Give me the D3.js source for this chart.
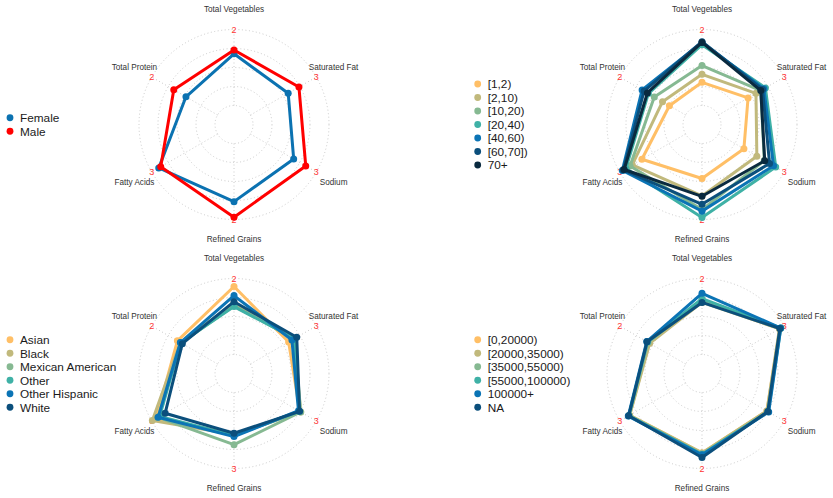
<!DOCTYPE html>
<html lang="en">
<head>
  <meta charset="UTF-8">
  <title>Diet component radar charts</title>
  <script src="https://d3js.org/d3.v7.min.js"></script>
  <style>
    body { margin: 0; background: #fff; }
    svg { font-family: "Liberation Sans", Arial, sans-serif; }
    .grid { fill: none; stroke: #bdbdbd; stroke-width: 0.8; stroke-dasharray: 1 2.5; }
    .axis-name { font-size: 8.2px; fill: #333; text-anchor: middle; }
    .axis-max { font-size: 9px; fill: #ff3333; text-anchor: middle; }
    .legend text { font-size: 11.8px; fill: #1a1a1a; }
  </style>
</head>
<body>
  <div id="chart"></div>

  <script>
    // axes, clockwise from the top
    const axes = ["Total Vegetables", "Saturated Fat", "Sodium", "Refined Grains", "Fatty Acids", "Total Protein"];

    // panel 1: sex
    const sexGroups = ["Female", "Male"];
    const sexColors = ["#0b72b1", "#ff0000"];
    const sexMax = [2, 3, 3, 2, 3, 2];
    const sexValues = [
      [1.36, 1.72, 1.97, 1.53, 2.68, 0.96],
      [1.46, 2.21, 2.52, 1.94, 2.59, 1.33]
    ];

    // panel 2: age
    const ageGroups = ["[1,2)", "[2,10)", "[10,20)", "[20,40)", "[40,60)", "[60,70])", "70+"];
    const ageColors = ["#ffbf66", "#c1b97c", "#86b992", "#3fb1a6", "#0b74b5", "#0b4f7c", "#0a2a3f"];
    const ageMax = [2, 3, 3, 2, 3, 2];
    const ageValues = [
      [0.61, 1.35, 1.16, 0.92, 1.99, 0.49],
      [0.82, 1.71, 1.75, 1.38, 2.43, 0.70],
      [1.05, 1.93, 2.09, 1.74, 2.53, 0.95],
      [1.60, 2.14, 2.61, 1.95, 2.72, 1.13],
      [1.66, 2.07, 2.51, 1.78, 2.88, 1.32],
      [1.68, 2.01, 2.33, 1.60, 2.84, 1.26],
      [1.66, 1.93, 2.11, 1.39, 2.80, 1.16]
    ];

    // panel 3: race
    const raceGroups = ["Asian", "Black", "Mexican American", "Other", "Other Hispanic", "White"];
    const raceColors = ["#ffbf66", "#c1b97c", "#86b992", "#3fb1a6", "#0b74b5", "#0b4f7c"];
    const raceMax = [2, 3, 3, 3, 3, 2];
    const raceValues = [
      [1.79, 1.74, 2.25, 1.66, 2.80, 1.22],
      [1.34, 1.97, 2.29, 1.66, 2.97, 1.13],
      [1.28, 2.01, 2.29, 2.06, 2.72, 1.11],
      [1.26, 2.01, 2.23, 1.70, 2.64, 1.12],
      [1.55, 1.89, 2.19, 1.74, 2.71, 1.13],
      [1.39, 2.11, 2.24, 1.61, 2.39, 1.07]
    ];

    // panel 4: income
    const incomeGroups = ["[0,20000)", "[20000,35000)", "[35000,55000)", "[55000,100000)", "100000+", "NA"];
    const incomeColors = ["#ffbf66", "#c1b97c", "#86b992", "#3fb1a6", "#0b74b5", "#0b4f7c"];
    const incomeMax = [2, 3, 3, 2, 3, 2];
    const incomeValues = [
      [1.39, 2.80, 2.21, 1.59, 2.55, 1.11],
      [1.37, 2.78, 2.21, 1.59, 2.55, 1.09],
      [1.42, 2.82, 2.25, 1.62, 2.57, 1.14],
      [1.47, 2.84, 2.27, 1.63, 2.59, 1.16],
      [1.61, 2.84, 2.29, 1.64, 2.61, 1.18],
      [1.37, 2.80, 2.25, 1.71, 2.59, 1.17]
    ];

    const panels = [
      { groups: sexGroups, colors: sexColors, max: sexMax, values: sexValues },
      { groups: ageGroups, colors: ageColors, max: ageMax, values: ageValues },
      { groups: raceGroups, colors: raceColors, max: raceMax, values: raceValues },
      { groups: incomeGroups, colors: incomeColors, max: incomeMax, values: incomeValues }
    ];

    const width = 833, height = 498;
    const panelW = 416, panelH = 249;
    const innerR = 19, outerR = 95, labelR = 115;

    const svg = d3.select("#chart")
      .append("svg")
      .attr("width", width)
      .attr("height", height);

    const angle = d3.scalePoint()
      .domain(axes)
      .range([0, 2 * Math.PI * (axes.length - 1) / axes.length]);

    const px = (a, r) => r * Math.sin(a);
    const py = (a, r) => -r * Math.cos(a);

    panels.forEach((p, i) => {
      const col = i % 2, row = Math.floor(i / 2);
      const cx = col ? 286 : 234, cy = 124.5;
      const legendX = col ? 61.7 : 10;

      const g = svg.append("g")
        .attr("transform", `translate(${col * panelW},${row * panelH})`);

      const plot = g.append("g").attr("transform", `translate(${cx},${cy})`);

      // one radial scale per axis
      const radius = axes.map((a, j) => d3.scaleLinear().domain([0, p.max[j]]).range([innerR, outerR]));

      // rings
      plot.selectAll("circle.grid")
        .data(d3.range(innerR, outerR + 1, (outerR - innerR) / 4))
        .join("circle")
        .attr("class", "grid")
        .attr("r", d => d);

      // spokes
      plot.selectAll("line.grid")
        .data(axes)
        .join("line")
        .attr("class", "grid")
        .attr("x1", d => px(angle(d), innerR))
        .attr("y1", d => py(angle(d), innerR))
        .attr("x2", d => px(angle(d), outerR))
        .attr("y2", d => py(angle(d), outerR));

      // axis maximum labels
      plot.selectAll("text.axis-max")
        .data(axes)
        .join("text")
        .attr("class", "axis-max")
        .attr("x", d => px(angle(d), outerR))
        .attr("y", d => py(angle(d), outerR))
        .attr("dy", "0.35em")
        .text((d, j) => p.max[j]);

      // axis names
      plot.selectAll("text.axis-name")
        .data(axes)
        .join("text")
        .attr("class", "axis-name")
        .attr("x", d => px(angle(d), labelR))
        .attr("y", d => py(angle(d), labelR))
        .attr("dy", "0.35em")
        .text(d => d);

      const line = d3.lineRadial()
        .angle((d, j) => angle(axes[j]))
        .radius((d, j) => radius[j](d))
        .curve(d3.curveLinearClosed);

      const series = plot.selectAll("g.series")
        .data(p.values)
        .join("g")
        .attr("class", "series");

      series.append("path")
        .attr("d", d => line(d))
        .attr("fill", "none")
        .attr("stroke", (d, k) => p.colors[k])
        .attr("stroke-width", 3)
        .attr("stroke-linejoin", "round");

      series.each(function(d, k) {
        d3.select(this).selectAll("circle")
          .data(d)
          .join("circle")
          .attr("cx", (v, j) => px(angle(axes[j]), radius[j](v)))
          .attr("cy", (v, j) => py(angle(axes[j]), radius[j](v)))
          .attr("r", 3.5)
          .attr("fill", p.colors[k]);
      });

      // legend
      const step = 13.5;
      const top = cy - step * (p.groups.length - 1) / 2;
      const legend = g.append("g").attr("class", "legend");
      const items = legend.selectAll("g")
        .data(p.groups)
        .join("g")
        .attr("transform", (d, k) => `translate(${legendX},${top + k * step})`);
      items.append("circle")
        .attr("r", 3.4)
        .attr("fill", (d, k) => p.colors[k]);
      items.append("text")
        .attr("x", 10)
        .attr("dy", "0.36em")
        .text(d => d);
    });
  </script>
</body>
</html>
